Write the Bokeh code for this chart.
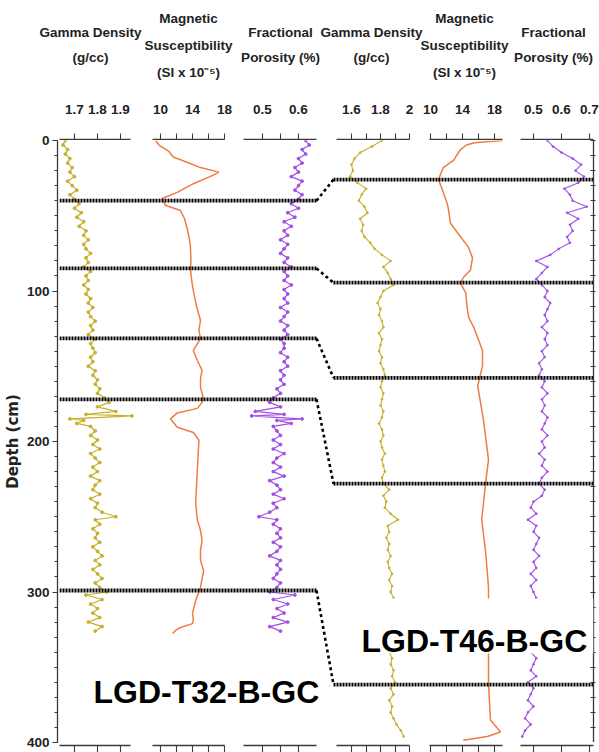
from bokeh.plotting import figure
from bokeh.models import Range1d, LinearAxis, FixedTicker, CustomJSTickFormatter, Label, BoxAnnotation
from bokeh.layouts import row, column
from bokeh.embed import file_html
from bokeh.resources import INLINE
from bokeh.core.properties import value

# ---------------- data ----------------
depth_t32 = [0, 3, 6, 9, 12, 15, 18, 21, 24, 27,
             30, 33, 36, 39, 42, 45, 48, 51, 54, 57,
             60, 63, 66, 69, 72, 75, 78, 81, 84, 87,
             90, 93, 96, 99, 102, 105, 108, 111, 114, 117,
             120, 123, 126, 129, 132, 135, 138, 141, 144, 147,
             150, 153, 156, 159, 162, 165, 168, 171, 174, 177,
             180, 182, 183, 185, 186, 188, 190, 193, 196, 199,
             202, 205, 208, 211, 214, 217, 220, 223, 226, 229,
             232, 235, 238, 241, 244, 247, 250, 252, 255, 258,
             261, 264, 267, 270, 273, 276, 279, 282, 285, 288,
             291, 294, 297, 300, 302, 305, 308, 311, 314, 317,
             320, 323, 326]
gamma_t32 = [1.66, 1.65, 1.67, 1.66, 1.68, 1.67, 1.69, 1.68, 1.70, 1.67,
             1.69, 1.71, 1.68, 1.70, 1.72, 1.70, 1.73, 1.71, 1.74, 1.72,
             1.75, 1.74, 1.76, 1.74, 1.75, 1.77, 1.75, 1.76, 1.74, 1.77,
             1.75, 1.76, 1.74, 1.76, 1.75, 1.77, 1.76, 1.78, 1.76, 1.77,
             1.79, 1.77, 1.78, 1.76, 1.79, 1.77, 1.78, 1.79, 1.77, 1.78,
             1.76, 1.79, 1.78, 1.80, 1.79, 1.81, 1.80, 1.83, 1.85, 1.80,
             1.88, 1.75, 1.95, 1.68, 1.74, 1.71, 1.77, 1.79, 1.77, 1.80,
             1.78, 1.81, 1.77, 1.79, 1.81, 1.78, 1.80, 1.77, 1.81, 1.79,
             1.78, 1.81, 1.77, 1.80, 1.79, 1.82, 1.88, 1.79, 1.81, 1.78,
             1.80, 1.79, 1.81, 1.78, 1.80, 1.82, 1.79, 1.81, 1.78, 1.80,
             1.82, 1.79, 1.81, 1.84, 1.75, 1.82, 1.77, 1.80, 1.78, 1.81,
             1.76, 1.82, 1.79]
porosity_t32 = [0.62, 0.63, 0.61, 0.62, 0.60, 0.61, 0.59, 0.60, 0.58, 0.61,
                0.60, 0.59, 0.61, 0.60, 0.58, 0.60, 0.57, 0.59, 0.56, 0.58,
                0.56, 0.57, 0.55, 0.57, 0.56, 0.55, 0.57, 0.56, 0.58, 0.56,
                0.57, 0.56, 0.58, 0.56, 0.57, 0.56, 0.57, 0.55, 0.57, 0.56,
                0.55, 0.57, 0.56, 0.57, 0.55, 0.56, 0.56, 0.55, 0.57, 0.56,
                0.57, 0.55, 0.56, 0.55, 0.56, 0.54, 0.55, 0.53, 0.52, 0.55,
                0.48, 0.56, 0.47, 0.61, 0.54, 0.58, 0.53, 0.54, 0.55, 0.53,
                0.55, 0.53, 0.56, 0.54, 0.53, 0.55, 0.53, 0.56, 0.52, 0.54,
                0.55, 0.53, 0.56, 0.53, 0.54, 0.52, 0.49, 0.54, 0.53, 0.55,
                0.54, 0.55, 0.53, 0.55, 0.54, 0.52, 0.55, 0.54, 0.55, 0.54,
                0.53, 0.55, 0.54, 0.52, 0.59, 0.53, 0.57, 0.54, 0.56, 0.53,
                0.57, 0.52, 0.55]
ms_depth_t32 = [0, 3, 7, 11, 14.6, 18, 21, 23, 28.7, 34.5, 38.5, 43, 46.5, 52, 57.8,
                65, 71, 80, 86, 93, 99.7, 110, 119.6, 126, 131.6, 139.5, 146, 152.8,
                158, 164, 170, 174, 178, 181, 185, 190.5, 194, 199, 210, 219, 230,
                241, 252, 259, 266, 272, 279, 286, 291, 297, 305.6, 310, 314, 318,
                321, 323.6, 325, 327.6]
ms_t32 = [9.4, 9.8, 11.0, 11.6, 13.4, 15.0, 17.3, 16.6, 14.1, 12.1, 10.2, 10.6, 12.5, 13.0, 13.3,
          13.6, 13.75, 13.8, 13.75, 13.9, 14.1, 14.5, 15.0, 14.8, 15.0, 14.1, 14.6, 15.2,
          15.0, 15.0, 15.3, 15.2, 14.6, 12.1, 11.25, 12.1, 14.1, 14.8, 14.7, 14.6, 14.5,
          14.4, 14.6, 15.0, 15.2, 15.0, 15.0, 15.4, 15.2, 15.0, 14.4, 14.2, 14.0, 14.1,
          14.0, 12.5, 12.0, 11.5]

depth_t46 = list(range(0, 400, 4))
gamma_t46 = [1.81, 1.74, 1.66, 1.62, 1.60, 1.61, 1.59, 1.64, 1.70, 1.67,
             1.65, 1.69, 1.71, 1.66, 1.68, 1.67, 1.69, 1.73, 1.76, 1.81,
             1.87, 1.82, 1.85, 1.87, 1.89, 1.82, 1.80, 1.78, 1.80, 1.79,
             1.81, 1.82, 1.79, 1.81, 1.80, 1.79, 1.81, 1.80, 1.82, 1.83,
             1.81, 1.80, 1.82, 1.81, 1.80, 1.82, 1.81, 1.79, 1.81, 1.82,
             1.80, 1.81, 1.83, 1.81, 1.82, 1.83, 1.81, 1.82, 1.86, 1.82,
             1.84, 1.83, 1.87, 1.92, 1.85, 1.86, 1.84, 1.86, 1.85, 1.87,
             1.85, 1.86, 1.88, 1.86, 1.88, 1.87, 1.89, 1.87, 1.88, 1.86,
             1.88, 1.87, 1.89, 1.87, 1.88, 1.86, 1.88, 1.87, 1.89, 1.88,
             1.90, 1.87, 1.89, 1.86, 1.88, 1.87, 1.89, 1.91, 1.94, 1.96]
porosity_t46 = [0.55, 0.57, 0.60, 0.64, 0.67, 0.65, 0.68, 0.66, 0.61, 0.63,
                0.64, 0.69, 0.62, 0.66, 0.63, 0.64, 0.62, 0.63, 0.59, 0.56,
                0.51, 0.55, 0.53, 0.51, 0.53, 0.55, 0.54, 0.56, 0.55, 0.54,
                0.55, 0.53, 0.55, 0.54, 0.55, 0.53, 0.54, 0.52, 0.53, 0.52,
                0.54, 0.53, 0.55, 0.53, 0.54, 0.53, 0.55, 0.54, 0.53, 0.55,
                0.53, 0.54, 0.52, 0.54, 0.53, 0.55, 0.53, 0.52, 0.54, 0.53,
                0.50, 0.49, 0.51, 0.48, 0.51, 0.50, 0.52, 0.51, 0.50, 0.52,
                0.50, 0.51, 0.49, 0.51, 0.49, 0.50, 0.51, 0.50, 0.52, 0.50,
                0.51, 0.49, 0.51, 0.50, 0.51, 0.49, 0.51, 0.50, 0.49, 0.51,
                0.48, 0.50, 0.49, 0.48, 0.50, 0.48, 0.47, 0.49, 0.47, 0.46]
ms_depth_t46 = [0, 0.8, 1.5, 3, 6, 13, 18, 26, 33, 42, 46, 55, 64, 71, 78, 86, 91, 95,
                101, 112, 118, 124, 139.5, 150, 163, 185, 212, 227, 252, 274, 297, 345,
                361, 385, 393, 396, 398.5]
ms_t46 = [19.0, 17.0, 15.5, 14.5, 13.75, 12.9, 11.6, 11.0, 11.5, 12.1, 12.25, 12.5, 13.75,
          14.75, 15.25, 15.0, 14.1, 13.75, 14.4, 14.6, 14.8, 15.4, 16.5, 16.5, 15.9, 16.6,
          17.25, 16.9, 16.4, 16.9, 17.25, 17.25, 17.25, 17.5, 18.75, 17.1, 14.1]

corr_t32 = [40, 85, 131.5, 172, 299]
corr_t46 = [26, 94.5, 157.7, 228, 361.5]

header_lines = [["Gamma Density", "(g/cc)"],
                ["Magnetic", "Susceptibility", "(SI x 10\u207b\u2075)"],
                ["Fractional", "Porosity (%)"],
                ["Gamma Density", "(g/cc)"],
                ["Magnetic", "Susceptibility", "(SI x 10\u207b\u2075)"],
                ["Fractional", "Porosity (%)"]]
core_names = ["LGD-T32-B-GC", "LGD-T46-B-GC"]

# ---------------- layout / style ----------------
GAMMA = "#c6b02e"
MAG = "#ef7b45"
POR = "#a24fe3"
AX = "#3a3a3a"
TXT = "#222222"
SANS = "Liberation Sans"

panels = [
    dict(key="g32", anchor=1.7, apx=74, s=230, a0=59, a1=130, major=[1.7, 1.8, 1.9], minor=[]),
    dict(key="m32", anchor=10, apx=160, s=8, a0=152, a1=224, major=[10, 14, 18], minor=[12, 16]),
    dict(key="p32", anchor=0.5, apx=262, s=360, a0=243, a1=316, major=[0.5, 0.6], minor=[0.55]),
    dict(key="g46", anchor=1.6, apx=351, s=145, a0=336, a1=409, major=[1.6, 1.8, 2.0], minor=[1.7, 1.9]),
    dict(key="m46", anchor=10, apx=430, s=8, a0=429, a1=502, major=[10, 14, 18], minor=[12, 16]),
    dict(key="p46", anchor=0.5, apx=533, s=280, a0=520, a1=593, major=[0.5, 0.6, 0.7], minor=[]),
]
header_cx = [90, 188, 280, 371, 464, 553]
header_cy = {2: [32, 57], 3: [18, 45, 72]}
B = [59, 141, 233, 334, 419, 511, 599]   # column boundaries (page px)
FL, FR = 59, 593                         # main frame (page px)
TOP_H, TICK_H, MAIN_H, FOOT_H = 92, 48, 602, 10
W = 599


def val(pn, px):
    return pn["anchor"] + (px - pn["apx"]) / pn["s"]


def base_fig(w, h, xr, yr, l, r, t, b):
    f = figure(width=w, height=h, x_range=xr, y_range=yr, x_axis_location=None, y_axis_location=None,
               toolbar_location=None, output_backend="svg", min_border_left=l, min_border_right=r,
               min_border_top=t, min_border_bottom=b)
    f.outline_line_color = None
    f.grid.grid_line_color = None
    f.background_fill_color = None
    f.border_fill_color = None
    return f


def style_ticks(ax, out):
    ax.axis_line_color = AX
    ax.axis_line_width = 1.3
    ax.major_tick_line_color = AX
    ax.minor_tick_line_color = AX
    ax.major_tick_line_width = 1.1
    ax.minor_tick_line_width = 1.1
    ax.major_tick_in = 0
    ax.minor_tick_in = 0
    ax.major_tick_out = out
    ax.minor_tick_out = out


# header titles
top = base_fig(W, TOP_H, Range1d(0, W), Range1d(TOP_H, 0), 0, 0, 0, 0)
hx, hy, ht = [], [], []
for i, lines in enumerate(header_lines):
    for j, t in enumerate(lines):
        hx.append(header_cx[i])
        hy.append(header_cy[len(lines)][j])
        ht.append(t)
top.text(x=hx, y=hy, text=ht, text_font=value(SANS), text_font_style="bold", text_font_size="13.5px",
         text_color=TXT, text_align="center", text_baseline="middle")

tick_figs, foot_figs = [], []
for i, pn in enumerate(panels):
    w = B[i + 1] - B[i]
    lb, rb = pn["a0"] - B[i], B[i + 1] - pn["a1"]
    tf = base_fig(w, TICK_H, Range1d(val(pn, pn["a0"]), val(pn, pn["a1"])), Range1d(0, 1), lb, rb, TICK_H - 1, 0)
    ax = LinearAxis(ticker=FixedTicker(ticks=pn["major"], minor_ticks=pn["minor"]),
                    formatter=CustomJSTickFormatter(code="return String(Math.round(tick*100)/100);"))
    style_ticks(ax, 6)
    ax.major_label_text_font = SANS
    ax.major_label_text_font_style = "bold"
    ax.major_label_text_font_size = "13.5px"
    ax.major_label_text_color = TXT
    ax.major_label_standoff = 20
    tf.add_layout(ax, "above")
    tick_figs.append(tf)

    ff = base_fig(w, FOOT_H, Range1d(val(pn, pn["a0"]), val(pn, pn["a1"])), Range1d(0, 1), lb, rb, 0, FOOT_H - 1)
    bx = LinearAxis(ticker=FixedTicker(ticks=pn["major"], minor_ticks=pn["minor"]),
                    formatter=CustomJSTickFormatter(code="return '';"))
    style_ticks(bx, 8)
    bx.major_label_text_font_size = "1px"
    bx.major_label_standoff = 0
    ff.add_layout(bx, "below")
    foot_figs.append(ff)

# main figure
main = base_fig(W - B[0], MAIN_H, Range1d(FL, FR), Range1d(400, 0), 0, W - FR, 0, 0)
main.extra_x_ranges = {pn["key"]: Range1d(val(pn, FL), val(pn, FR)) for pn in panels}

rax = LinearAxis(ticker=FixedTicker(ticks=list(range(0, 401, 10)), minor_ticks=[]),
                 formatter=CustomJSTickFormatter(code="return '';"))
rax.axis_line_color = AX
rax.axis_line_width = 1.3
rax.major_tick_line_color = AX
rax.major_tick_in = 3
rax.major_tick_out = 2
rax.major_label_text_font_size = "1px"
rax.major_label_standoff = 0
main.add_layout(rax, "right")

# T32 curves
main.line(gamma_t32, depth_t32, x_range_name="g32", color=GAMMA, line_width=1.2)
main.scatter(gamma_t32, depth_t32, x_range_name="g32", color=GAMMA, size=2.8)
main.line(ms_t32, ms_depth_t32, x_range_name="m32", color=MAG, line_width=1.5)
main.line(porosity_t32, depth_t32, x_range_name="p32", color=POR, line_width=1.2)
main.scatter(porosity_t32, depth_t32, x_range_name="p32", color=POR, size=2.8)
# T46 curves
main.line(gamma_t46, depth_t46, x_range_name="g46", color=GAMMA, line_width=1.1)
main.scatter(gamma_t46, depth_t46, x_range_name="g46", color=GAMMA, size=1.8)
main.line(ms_t46, ms_depth_t46, x_range_name="m46", color=MAG, line_width=1.5)
main.line(porosity_t46, depth_t46, x_range_name="p46", color=POR, line_width=1.1)
main.scatter(porosity_t46, depth_t46, x_range_name="p46", color=POR, size=1.8)

# correlation lines
x_end32 = panels[2]["a1"]
x_start46 = panels[3]["a0"] - 3
for d32, d46 in zip(corr_t32, corr_t46):
    main.line([FL, x_end32], [d32, d32], color="black", line_width=3.8, line_dash="2 1")
    main.line([x_end32, x_start46], [d32, d46], color="black", line_width=2.6, line_dash="3 3")
    main.line([x_start46, FR], [d46, d46], color="black", line_width=3.8, line_dash="2 1")

px_per_cm = MAIN_H / 400.0


def page_to_depth(py):
    return (py - (TOP_H + TICK_H)) / px_per_cm


main.add_layout(BoxAnnotation(left=335, right=FR, top=page_to_depth(598), bottom=page_to_depth(653),
                              fill_color="white", fill_alpha=1.0, line_color=None))
main.add_layout(Label(x=361, y=page_to_depth(640), text=core_names[1], text_font=SANS,
                      text_font_style="bold", text_font_size="32px", text_color="black",
                      text_baseline="alphabetic", text_align="left"))
main.add_layout(Label(x=93, y=page_to_depth(691), text=core_names[0], text_font=SANS,
                      text_font_style="bold", text_font_size="32px", text_color="black",
                      text_baseline="alphabetic", text_align="left"))

# depth axis figure
yfig = base_fig(B[0], TICK_H + MAIN_H + FOOT_H, Range1d(0, 1), Range1d(400, 0), B[0] - 2, 0, TICK_H, FOOT_H)
yax = LinearAxis(ticker=FixedTicker(ticks=[0, 100, 200, 300, 400], minor_ticks=list(range(0, 401, 10))),
                 axis_label="Depth (cm)")
yax.axis_line_color = AX
yax.axis_line_width = 1.3
yax.major_tick_line_color = AX
yax.minor_tick_line_color = AX
yax.major_tick_in = 0
yax.minor_tick_in = 0
yax.major_tick_out = 5
yax.minor_tick_out = 3
yax.major_label_text_font = SANS
yax.major_label_text_font_style = "bold"
yax.major_label_text_font_size = "13.5px"
yax.major_label_text_color = TXT
yax.major_label_standoff = 3
yax.axis_label_text_font = "DejaVu Sans"
yax.axis_label_text_font_style = "bold"
yax.axis_label_text_font_size = "15px"
yax.axis_label_text_color = TXT
yax.axis_label_standoff = 2
yfig.add_layout(yax, "left")

layout = column(top, row(yfig, column(row(*tick_figs), main, row(*foot_figs))))
open("out.html", "w").write(file_html(layout, INLINE))
